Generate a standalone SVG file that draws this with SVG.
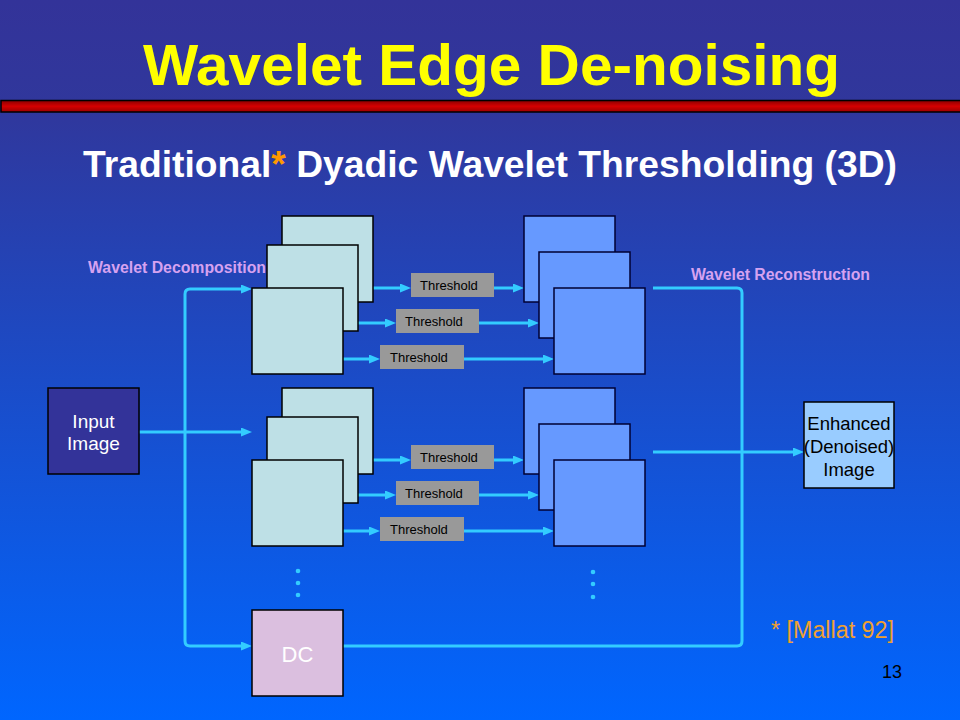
<svg xmlns="http://www.w3.org/2000/svg" width="960" height="720" viewBox="0 0 960 720">
<defs>
<linearGradient id="bg" x1="0" y1="0" x2="0" y2="1">
<stop offset="0" stop-color="#333399"/>
<stop offset="0.15" stop-color="#30379C"/>
<stop offset="1" stop-color="#0066FF"/>
</linearGradient>
<linearGradient id="bar" x1="0" y1="0" x2="0" y2="1">
<stop offset="0" stop-color="#8A0000"/>
<stop offset="0.5" stop-color="#D40000"/>
<stop offset="1" stop-color="#9A0000"/>
</linearGradient>
<marker id="ah" markerUnits="userSpaceOnUse" markerWidth="11" markerHeight="9" refX="6" refY="4.5" orient="auto">
<path d="M0,0 L11,4.5 L0,9 z" fill="#33CCFF"/>
</marker>
<style>
.t{font-family:"Liberation Sans",Arial,sans-serif}
.sqL{fill:#BEE0E6;stroke:#000;stroke-width:1.5}
.sqR{fill:#6699FF;stroke:#000033;stroke-width:1.5}
.thr{fill:#999999}
.thrT{font-family:"Liberation Sans",Arial,sans-serif;font-size:13px;fill:#000}
.ln{fill:none;stroke:#33CCFF;stroke-width:3}
.ar{fill:none;stroke:#33CCFF;stroke-width:3;marker-end:url(#ah)}
.lbl{font-family:"Liberation Sans",Arial,sans-serif;font-size:16px;font-weight:bold;fill:#D6A2F0}
.dot{fill:#33CCFF}
</style>
</defs>
<rect x="0" y="0" width="960" height="720" fill="url(#bg)"/>
<text class="t" x="143" y="85" font-size="58" font-weight="bold" fill="#FFFF00" textLength="697" lengthAdjust="spacingAndGlyphs">Wavelet Edge De-noising</text>
<rect x="1" y="100.5" width="960" height="11.5" fill="url(#bar)" stroke="#000" stroke-width="1.5"/>
<text class="t" x="83" y="177" font-size="36" font-weight="bold" fill="#FFFFFF" textLength="814" lengthAdjust="spacingAndGlyphs">Traditional<tspan fill="#FF9900">*</tspan> Dyadic Wavelet Thresholding (3D)</text>
<text class="lbl" x="88" y="273" textLength="178" lengthAdjust="spacingAndGlyphs">Wavelet Decomposition</text>
<text class="lbl" x="691" y="280" textLength="179" lengthAdjust="spacingAndGlyphs">Wavelet Reconstruction</text>

<g id="connectors">
<path class="ar" d="M139 432 H247"/>
<path class="ar" d="M185 400 V294 Q185 289 190 289 H247"/>
<path class="ar" d="M185 400 V641 Q185 646 190 646 H247"/>
<path class="ar" d="M373 288 H406"/>
<path class="ar" d="M358 323 H391"/>
<path class="ar" d="M343 359 H375"/>
<path class="ar" d="M494 288 H519"/>
<path class="ar" d="M479 323 H534"/>
<path class="ar" d="M464 359 H549"/>
<path class="ar" d="M373 460 H406"/>
<path class="ar" d="M358 495 H391"/>
<path class="ar" d="M343 531 H375"/>
<path class="ar" d="M494 460 H519"/>
<path class="ar" d="M479 495 H534"/>
<path class="ar" d="M464 531 H549"/>
<path class="ln" d="M653 288 H737 Q742 288 742 293 V641 Q742 646 737 646 H343"/>
<path class="ar" d="M653 452 H799"/>
</g>

<g id="input-image">
<rect x="48" y="388" width="91" height="86" fill="#333399" stroke="#000" stroke-width="1.5"/>
<text class="t" x="93.5" y="428" font-size="19" fill="#FFFFFF" text-anchor="middle">Input</text>
<text class="t" x="93.5" y="450" font-size="19" fill="#FFFFFF" text-anchor="middle">Image</text>
</g>

<g id="decomp-top">
<rect class="sqL" x="282" y="216" width="91" height="86"/>
<rect class="sqL" x="267" y="245" width="91" height="86"/>
<rect class="sqL" x="252" y="288" width="91" height="86"/>
</g>
<g id="decomp-bottom">
<rect class="sqL" x="282" y="388" width="91" height="86"/>
<rect class="sqL" x="267" y="417" width="91" height="86"/>
<rect class="sqL" x="252" y="460" width="91" height="86"/>
</g>

<g id="threshold-top-1"><rect class="thr" x="411" y="273" width="83" height="24"/><text class="thrT" x="420" y="290">Threshold</text></g>
<g id="threshold-top-2"><rect class="thr" x="396" y="309" width="83" height="24"/><text class="thrT" x="405" y="326">Threshold</text></g>
<g id="threshold-top-3"><rect class="thr" x="380" y="345" width="84" height="24"/><text class="thrT" x="390" y="362">Threshold</text></g>
<g id="threshold-bottom-1"><rect class="thr" x="411" y="445" width="83" height="24"/><text class="thrT" x="420" y="462">Threshold</text></g>
<g id="threshold-bottom-2"><rect class="thr" x="396" y="481" width="83" height="24"/><text class="thrT" x="405" y="498">Threshold</text></g>
<g id="threshold-bottom-3"><rect class="thr" x="380" y="517" width="84" height="24"/><text class="thrT" x="390" y="534">Threshold</text></g>

<g id="recon-top">
<rect class="sqR" x="524" y="216" width="91" height="86"/>
<rect class="sqR" x="539" y="252" width="91" height="86"/>
<rect class="sqR" x="554" y="288" width="91" height="86"/>
</g>
<g id="recon-bottom">
<rect class="sqR" x="524" y="388" width="91" height="86"/>
<rect class="sqR" x="539" y="424" width="91" height="86"/>
<rect class="sqR" x="554" y="460" width="91" height="86"/>
</g>

<g id="dots-left"><circle class="dot" cx="298" cy="571" r="2.3"/><circle class="dot" cx="298" cy="583" r="2.3"/><circle class="dot" cx="298" cy="595" r="2.3"/></g>
<g id="dots-right"><circle class="dot" cx="593" cy="572" r="2.3"/><circle class="dot" cx="593" cy="584" r="2.3"/><circle class="dot" cx="593" cy="597" r="2.3"/></g>

<g id="dc">
<rect x="252" y="610" width="91" height="86" fill="#DBBFDF" stroke="#000" stroke-width="1.5"/>
<text class="t" x="297.5" y="662" font-size="22" fill="#FFFFFF" text-anchor="middle">DC</text>
</g>

<g id="enhanced-image">
<rect x="804" y="402" width="90" height="86" fill="#99CCFF" stroke="#000" stroke-width="1.5"/>
<text class="t" x="849" y="430" font-size="18.5" fill="#000" text-anchor="middle">Enhanced</text>
<text class="t" x="849" y="453" font-size="18.5" fill="#000" text-anchor="middle">(Denoised)</text>
<text class="t" x="849" y="476" font-size="18.5" fill="#000" text-anchor="middle">Image</text>
</g>

<text class="t" x="771" y="638" font-size="23" fill="#F0A030" textLength="123" lengthAdjust="spacingAndGlyphs">* [Mallat 92]</text>
<text class="t" x="882" y="678" font-size="18" fill="#000">13</text>
</svg>
